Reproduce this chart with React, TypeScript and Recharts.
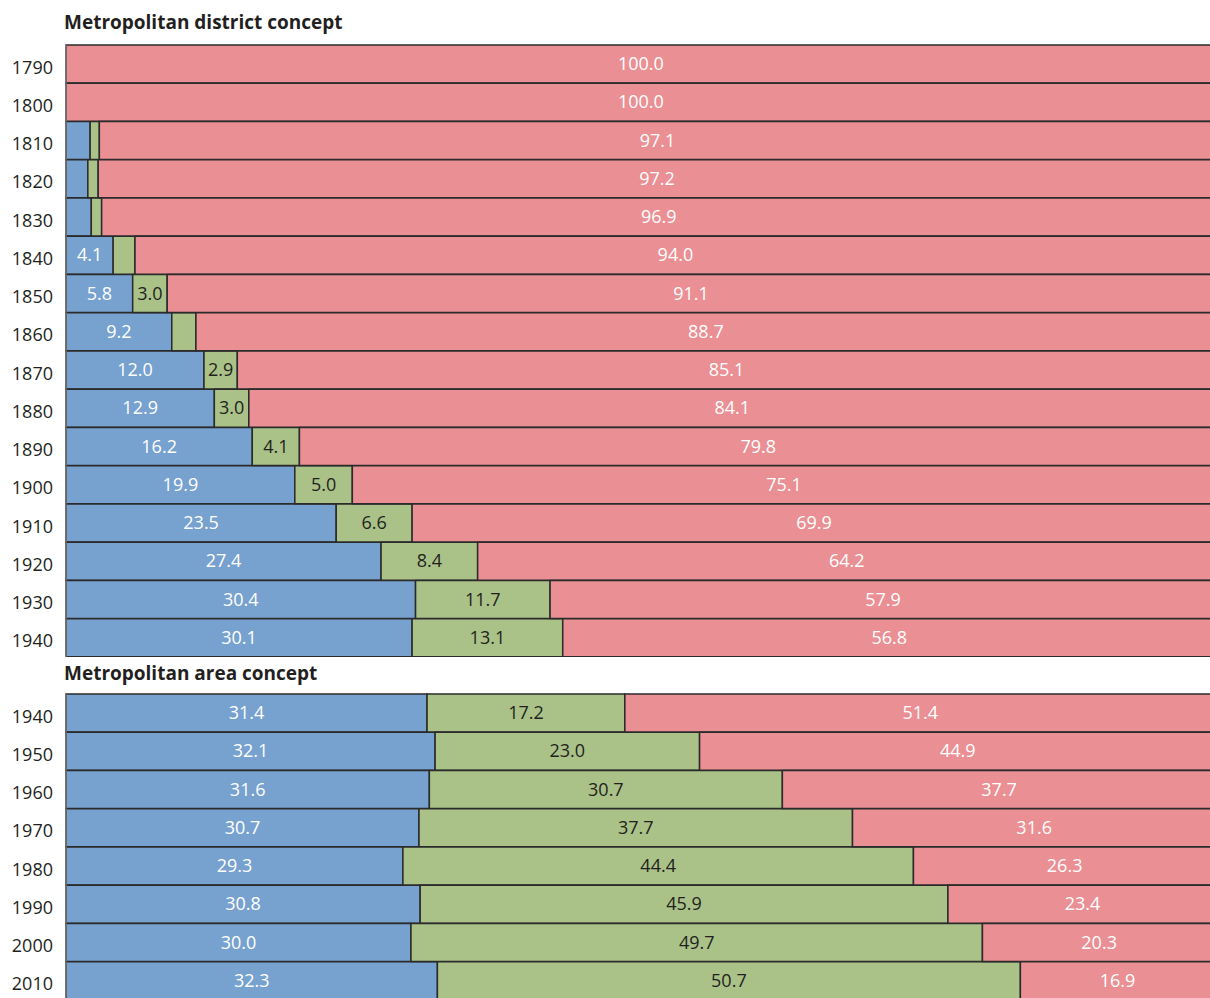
import { BarChart, Bar, XAxis, YAxis, LabelList } from 'recharts'

const FONT = '"Open Sans", "Noto Sans", sans-serif'
const BLUE = '#77a1cf'
const GREEN = '#aac288'
const RED = '#ea8f93'
const EDGE = '#2b2b2b'

// Metropolitan district concept
const districtYears = ['1790', '1800', '1810', '1820', '1830', '1840', '1850', '1860', '1870', '1880', '1890', '1900', '1910', '1920', '1930', '1940']
const districtCity = [0, 0, 2.1, 1.9, 2.2, 4.1, 5.8, 9.2, 12.0, 12.9, 16.2, 19.9, 23.5, 27.4, 30.4, 30.1]
const districtSuburb = [0, 0, 0.8, 0.9, 0.9, 1.9, 3.0, 2.1, 2.9, 3.0, 4.1, 5.0, 6.6, 8.4, 11.7, 13.1]
const districtRest = [100.0, 100.0, 97.1, 97.2, 96.9, 94.0, 91.1, 88.7, 85.1, 84.1, 79.8, 75.1, 69.9, 64.2, 57.9, 56.8]

// Metropolitan area concept
const areaYears = ['1940', '1950', '1960', '1970', '1980', '1990', '2000', '2010']
const areaCity = [31.4, 32.1, 31.6, 30.7, 29.3, 30.8, 30.0, 32.3]
const areaSuburb = [17.2, 23.0, 30.7, 37.7, 44.4, 45.9, 49.7, 50.7]
const areaRest = [51.4, 44.9, 37.7, 31.6, 26.3, 23.4, 20.3, 16.9]

const build = (years: string[], a: number[], b: number[], c: number[]) =>
  years.map((year, i) => ({ year, city: a[i], suburb: b[i], rest: c[i] }))

const districtData = build(districtYears, districtCity, districtSuburb, districtRest)
const areaData = build(areaYears, areaCity, areaSuburb, areaRest)

const makeLabel = (fill: string) => (props: any) => {
  const { x, y, width, height, value } = props
  if (!value || width < 28) return null
  return (
    <text
      x={x + width / 2}
      y={y + height / 2}
      dy={6}
      textAnchor="middle"
      fill={fill}
      fontSize={18}
      fontFamily={FONT}
    >
      {Number(value).toFixed(1)}
    </text>
  )
}

function Panel({ data, height, top }: { data: any[]; height: number; top: number }) {
  return (
    <BarChart
      width={1217}
      height={height}
      data={data}
      layout="vertical"
      margin={{ top, right: 0, bottom: 0, left: 0 }}
      barCategoryGap={0}
    >
      <XAxis type="number" domain={[0, 100]} hide />
      <YAxis
        type="category"
        dataKey="year"
        width={66}
        tickSize={0}
        tickMargin={13}
        axisLine={{ stroke: '#888' }}
        tick={{ fontSize: 18, fill: '#231f20', fontFamily: FONT, dy: 3 }}
      />
      <Bar dataKey="city" stackId="s" fill={BLUE} stroke={EDGE} strokeWidth={1.5} isAnimationActive={false}>
        <LabelList dataKey="city" content={makeLabel('#ffffff')} />
      </Bar>
      <Bar dataKey="suburb" stackId="s" fill={GREEN} stroke={EDGE} strokeWidth={1.5} isAnimationActive={false}>
        <LabelList dataKey="suburb" content={makeLabel('#231f20')} />
      </Bar>
      <Bar dataKey="rest" stackId="s" fill={RED} stroke={EDGE} strokeWidth={1.5} isAnimationActive={false}>
        <LabelList dataKey="rest" content={makeLabel('#ffffff')} />
      </Bar>
    </BarChart>
  )
}

const titleStyle: React.CSSProperties = {
  position: 'absolute',
  left: 64,
  fontFamily: FONT,
  fontWeight: 700,
  fontSize: 19,
  color: '#231f20',
  lineHeight: '20px',
}

export default function App() {
  return (
    <div style={{ position: 'absolute', left: 0, top: 0, width: 1210, height: 998, background: '#fff', overflow: 'hidden' }}>
      <Panel data={districtData} height={657} top={45} />
      <div style={{ position: 'absolute', left: 0, top: 657 }}>
        <Panel data={areaData} height={343} top={37} />
      </div>
      <div style={{ ...titleStyle, top: 12 }}>Metropolitan district concept</div>
      <div style={{ ...titleStyle, top: 663 }}>Metropolitan area concept</div>
    </div>
  )
}
